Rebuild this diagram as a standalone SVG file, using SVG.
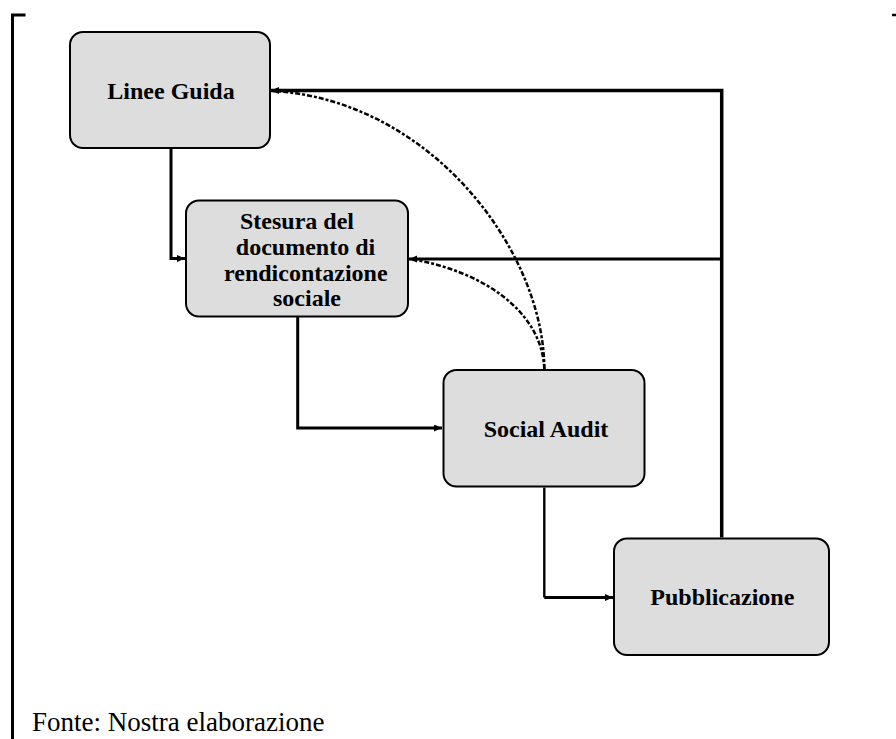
<svg xmlns="http://www.w3.org/2000/svg" width="896" height="739" viewBox="0 0 896 739">
  <style>
    .box { fill: #dddddd; stroke: #000000; stroke-width: 2; }
    .label { font-family: "Liberation Serif", "Times New Roman", serif; font-weight: bold; font-size: 24px; fill: #000000; text-anchor: middle; }
    .note { font-family: "Liberation Serif", "Times New Roman", serif; font-size: 27px; fill: #000000; }
    .line { fill: none; stroke: #000000; stroke-width: 3; stroke-linejoin: miter; }
    .thin { fill: none; stroke: #000000; stroke-width: 2.4; }
    .dash { fill: none; stroke: #000000; stroke-width: 2.5; stroke-dasharray: 5 2 3 2; }
  </style>
  <defs>
    <marker id="arrow" markerUnits="userSpaceOnUse" markerWidth="10" markerHeight="8" refX="8" refY="3.5" orient="auto">
      <path d="M0,0 L8,3.5 L0,7 z" fill="#000000"/>
    </marker>
  </defs>

  <rect width="896" height="739" fill="#ffffff"/>

  <!-- frame bracket -->
  <g id="frame">
    <path d="M25.5,15 L12.5,15 L12.5,739" fill="none" stroke="#000000" stroke-width="3"/>
    <path d="M892,15 L896,15" fill="none" stroke="#000000" stroke-width="2.5"/>
  </g>

  <!-- connectors -->
  <g id="connectors">
    <path class="line" d="M171,149 L171,258.5 L185,258.5" marker-end="url(#arrow)"/>
    <path class="line" d="M297.7,317 L297.7,428 L442,428" marker-end="url(#arrow)"/>
    <path class="thin" d="M544.3,487.5 L544.3,597.5"/>
    <path class="line" d="M544.3,597.5 L613,597.5" marker-end="url(#arrow)"/>
    <path class="line" d="M721.7,537.5 L721.7,90.5 L271,90.5" marker-end="url(#arrow)" style="stroke-width:3.5"/>
    <path class="line" d="M721.7,259 L409,259" marker-end="url(#arrow)"/>
    <path class="dash" d="M544.3,369 C544,250 430,100 273,91"/>
    <path class="dash" d="M544.3,369 C542,310 480,270 410,259"/>
  </g>

  <!-- nodes -->
  <g id="node-linee-guida">
    <rect class="box" x="70" y="32" width="200" height="116" rx="13" ry="13"/>
    <text class="label" x="171" y="99.3">Linee Guida</text>
  </g>

  <g id="node-stesura">
    <rect class="box" x="186" y="200.5" width="222" height="116" rx="13" ry="13"/>
    <text class="label" x="297" y="229.3">Stesura del</text>
    <text class="label" x="305.5" y="255">documento di</text>
    <text class="label" x="305.8" y="280.5">rendicontazione</text>
    <text class="label" x="307" y="305.7">sociale</text>
  </g>

  <g id="node-social-audit">
    <rect class="box" x="443.5" y="370" width="201" height="116.5" rx="13" ry="13"/>
    <text class="label" x="546" y="437.3">Social Audit</text>
  </g>

  <g id="node-pubblicazione">
    <rect class="box" x="614" y="538.5" width="215" height="116.5" rx="13" ry="13"/>
    <text class="label" x="722.3" y="605">Pubblicazione</text>
  </g>

  <text class="note" x="32" y="731">Fonte: Nostra elaborazione</text>
</svg>
